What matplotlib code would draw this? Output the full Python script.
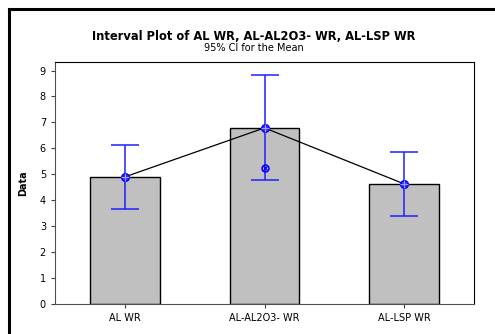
import matplotlib.pyplot as plt
from matplotlib.lines import Line2D

categories = ['AL WR', 'AL-AL2O3- WR', 'AL-LSP WR']
means = [4.90, 6.79, 4.63]
ci_low = [3.68, 4.79, 3.38]
ci_high = [6.13, 8.81, 5.87]
second_marker = [None, 5.25, None]

fig = plt.figure(figsize=(4.95, 3.34), dpi=100)
ax = fig.add_axes([55/495, 1 - 304/334, 419/495, 242/334])

x = list(range(len(categories)))
ax.bar(x, means, width=0.5, color='#c0c0c0', edgecolor='black', linewidth=1.0, zorder=1)
ax.plot(x, means, color='black', linewidth=0.9, zorder=2)

lo = [m - l for m, l in zip(means, ci_low)]
hi = [h - m for m, h in zip(means, ci_high)]
ax.errorbar(x, means, yerr=[lo, hi], fmt='none', ecolor='#2020ff',
            elinewidth=1.1, capsize=10, capthick=1.1, zorder=3)
ax.plot(x, means, 'o', ms=5.5, mfc='#3030ff', mec='#0000ff', mew=1, zorder=4)
ax.plot(x, means, '+', ms=5.5, color='#a0a0ff', mew=0.8, zorder=5)
for xi, v in zip(x, second_marker):
    if v is not None:
        ax.plot(xi, v, 'o', ms=5, mfc='none', mec='#0000ff', mew=1.1, zorder=4)
        ax.plot(xi, v, 'x', ms=3.5, color='#0000ff', mew=0.9, zorder=5)

ax.set_xlim(-0.5, 2.5)
ax.set_ylim(0, 9.33)
ax.set_yticks(range(0, 10))
ax.set_xticks(x)
ax.set_xticklabels(categories)
ax.tick_params(labelsize=7, length=3, color='#404040')
ax.set_ylabel('Data', fontsize=7, fontweight='bold', labelpad=8)
for s in ['left', 'bottom']:
    ax.spines[s].set_color('#505050')

fig.text(254/495, 1 - 36/334, 'Interval Plot of AL WR, AL-AL2O3- WR, AL-LSP WR',
         ha='center', va='center', fontsize=8.3, fontweight='bold')
fig.text(254/495, 1 - 48/334, '95% CI for the Mean', ha='center', va='center', fontsize=7)

# outer frame (left and top edges only visible)
fig.add_artist(Line2D([9/495, 9/495], [0, 1 - 9/334], transform=fig.transFigure,
                      color='black', linewidth=2.2))
fig.add_artist(Line2D([9/495, 1], [1 - 9/334, 1 - 9/334], transform=fig.transFigure,
                      color='black', linewidth=2.2))

fig.savefig('out.png', dpi=100)
